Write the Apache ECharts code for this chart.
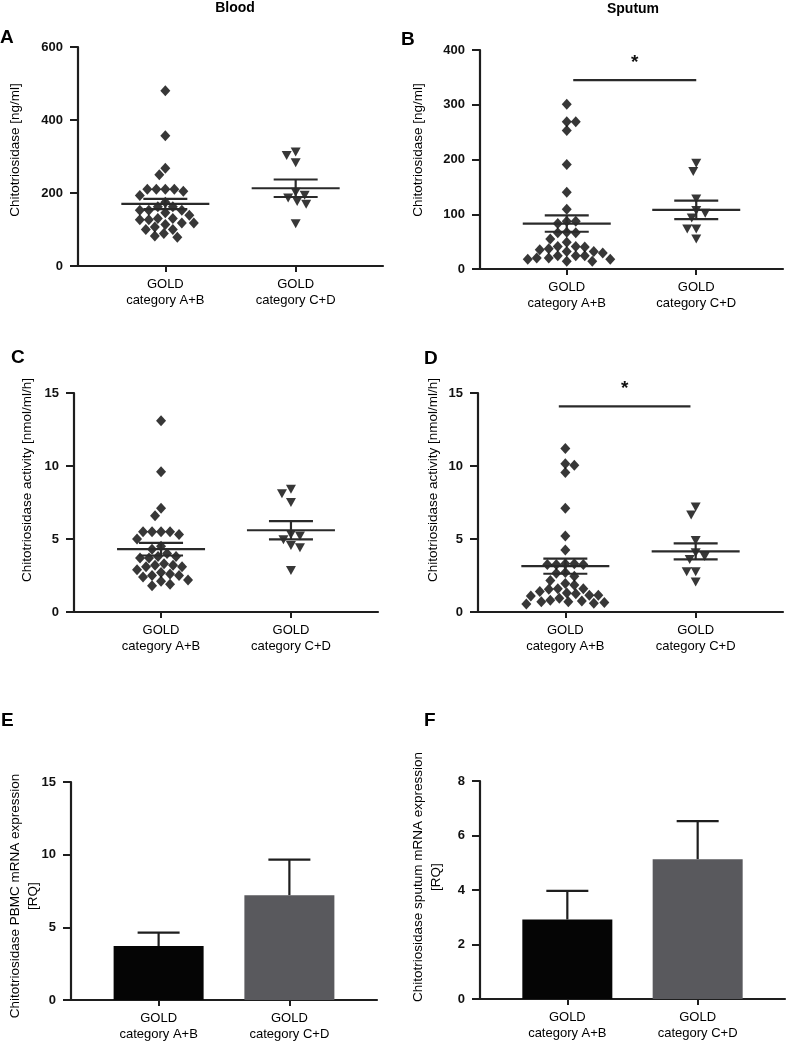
<!DOCTYPE html>
<html>
<head>
<meta charset="utf-8">
<script src="https://cdn.jsdelivr.net/npm/echarts@6/dist/echarts.min.js"></script>
<style>
html,body{margin:0;padding:0;background:#fff;}
#chart{width:797px;height:1043px;}
</style>
</head>
<body>
<div id="chart"></div>
<script>
// ---------- DATA ----------
const categories = ['GOLD\ncategory A+B', 'GOLD\ncategory C+D'];

// Panel A: Blood chitotriosidase [ng/ml]
const bloodConcAB = [480, 357, 268, 250, 210, 210, 210, 210, 205, 193, 175, 162, 162, 153, 153, 153, 146, 139, 130, 130, 127, 127, 118, 118, 114, 107, 100, 100, 89, 82, 79];
const bloodConcCD = [312, 303, 283, 202, 194, 186, 177, 169, 116];
const bloodConcMean = [170, 213];
const bloodConcSem = [14, 24];

// Panel B: Sputum chitotriosidase [ng/ml]
const sputumConcAB = [301, 269, 269, 253, 191, 140, 109, 87, 87, 83, 67, 66, 66, 55, 49, 41, 41, 40, 37, 35, 32, 32, 29, 24, 24, 24, 20, 20, 18, 18, 14, 14];
const sputumConcCD = [193, 178, 128, 107, 102, 93, 73, 73, 55];
const sputumConcMean = [83, 108];
const sputumConcSem = [15, 17];
const sigBarB = [1.05, 2.0, 345];

// Panel C: Blood chitotriosidase activity [nmol/ml/h]
const bloodActAB = [13.1, 9.6, 7.1, 6.6, 5.5, 5.5, 5.5, 5.5, 5.3, 5.0, 4.5, 4.3, 4.0, 3.8, 3.8, 3.7, 3.7, 3.3, 3.2, 3.2, 3.1, 3.1, 2.9, 2.7, 2.6, 2.5, 2.5, 2.4, 2.2, 2.1, 1.9, 1.8];
const bloodActCD = [8.4, 8.1, 7.5, 5.3, 5.2, 4.95, 4.55, 4.4, 2.85];
const bloodActMean = [4.3, 5.6];
const bloodActSem = [0.43, 0.63];

// Panel D: Sputum chitotriosidase activity [nmol/ml/h]
const sputumActAB = [11.2, 10.15, 10.05, 9.55, 7.1, 5.2, 4.25, 3.3, 3.3, 3.25, 3.25, 3.25, 2.7, 2.65, 2.45, 2.15, 1.95, 1.85, 1.6, 1.6, 1.55, 1.4, 1.3, 1.25, 1.15, 1.15, 1.1, 0.95, 0.8, 0.75, 0.7, 0.7, 0.65, 0.6, 0.55];
const sputumActCD = [7.2, 6.65, 4.9, 4.05, 3.8, 3.6, 2.75, 2.75, 2.05];
const sputumActMean = [3.14, 4.15];
const sputumActSem = [0.52, 0.55];
const sigBarD = [0.95, 1.96, 14.08];

// Panel E: PBMC mRNA expression [RQ]
const pbmcMean = [3.71, 7.21];
const pbmcSem = [0.92, 2.45];

// Panel F: Sputum mRNA expression [RQ]
const sputumMrnaMean = [2.92, 5.13];
const sputumMrnaSem = [1.05, 1.40];

// Axis tick settings [max, interval]
const yAxisA = [600, 200];
const yAxisB = [400, 100];
const yAxisC = [15, 5];
const yAxisD = [15, 5];
const yAxisE = [15, 5];
const yAxisF = [8, 2];

// ---------- LAYOUT / STYLE ----------
const FONT = "'Liberation Sans', Arial, sans-serif";
const INK = '#1e1e1e';
const XMIN = 0.33, XMAX = 2.67;
const grids = [
  {left: 78, top: 47, width: 305, height: 219},   // A
  {left: 480, top: 50, width: 303, height: 219},  // B
  {left: 74, top: 393, width: 304, height: 219},  // C
  {left: 478, top: 393, width: 305, height: 219}, // D
  {left: 71, top: 782, width: 306, height: 218},  // E
  {left: 480, top: 781, width: 305, height: 218}  // F
];
const yAx = [yAxisA, yAxisB, yAxisC, yAxisD, yAxisE, yAxisF];

// beeswarm layout in pixel space, converted back to data units
function swarm(values, cat, gi) {
  const g = grids[gi];
  const pxPerY = g.height / yAx[gi][0];
  const pxPerX = g.width / (XMAX - XMIN);
  const step = 1.5, minDist = 8.7;
  const placed = [];
  const order = values.map((v, i) => i).sort((a, b) => values[b] - values[a]);
  const out = new Array(values.length);
  order.forEach((idx, n) => {
    const py = values[idx] * pxPerY;
    const sign = n % 2 === 0 ? 1 : -1;
    for (let k = 0; k < 200; k++) {
      const off = k === 0 ? 0 : (k % 2 === 1 ? sign * (k + 1) / 2 : -sign * k / 2);
      const px = off * step;
      const ok = placed.every(p => Math.hypot(p[0] - px, p[1] - py) >= minDist);
      if (ok) {
        placed.push([px, py]);
        out[idx] = [cat + px / pxPerX, values[idx]];
        break;
      }
    }
  });
  return out;
}

const series = [];
function scatterPanel(gi, ab, cd, mean, sem, sig) {
  series.push({
    type: 'scatter', xAxisIndex: gi, yAxisIndex: gi, z: 2,
    symbol: 'diamond', symbolSize: [10, 11],
    itemStyle: {color: '#050505'},
    data: swarm(ab, 1, gi)
  });
  series.push({
    type: 'scatter', xAxisIndex: gi, yAxisIndex: gi, z: 2,
    symbol: 'triangle', symbolRotate: 180, symbolSize: [10, 9],
    itemStyle: {color: '#050505'},
    data: swarm(cd, 2, gi)
  });
  series.push({
    type: 'custom', xAxisIndex: gi, yAxisIndex: gi, z: 5,
    data: mean.map((m, i) => [i + 1, m, sem[i]]),
    renderItem: function (params, api) {
      const x = api.value(0), m = api.value(1), s = api.value(2);
      const c = api.coord([x, m]);
      const hi = api.coord([x, m + s]);
      const lo = api.coord([x, m - s]);
      const st = {stroke: '#2a2a2a', lineWidth: 2.2};
      return {type: 'group', children: [
        {type: 'line', shape: {x1: c[0] - 44, y1: c[1], x2: c[0] + 44, y2: c[1]}, style: st},
        {type: 'line', shape: {x1: c[0] - 22, y1: hi[1], x2: c[0] + 22, y2: hi[1]}, style: st},
        {type: 'line', shape: {x1: c[0] - 22, y1: lo[1], x2: c[0] + 22, y2: lo[1]}, style: st},
        {type: 'line', shape: {x1: c[0], y1: hi[1], x2: c[0], y2: lo[1]}, style: st}
      ]};
    }
  });
  if (sig) {
    series.push({
      type: 'custom', xAxisIndex: gi, yAxisIndex: gi, z: 5, clip: false,
      data: [sig],
      renderItem: function (params, api) {
        const a = api.coord([api.value(0), api.value(2)]);
        const b = api.coord([api.value(1), api.value(2)]);
        return {type: 'group', children: [
          {type: 'line', shape: {x1: a[0], y1: a[1], x2: b[0], y2: b[1]}, style: {stroke: '#2a2a2a', lineWidth: 2.2}},
          {type: 'text', x: (a[0] + b[0]) / 2, y: a[1] - 27,
           style: {text: '*', fontFamily: FONT, fontSize: 19, fontWeight: 'bold', fill: '#111', align: 'center', verticalAlign: 'top'}}
        ]};
      }
    });
  }
}
function barPanel(gi, mean, sem) {
  const colors = ['#050505', '#59595d'];
  series.push({
    type: 'bar', xAxisIndex: gi, yAxisIndex: gi, z: 2, barWidth: 90,
    data: mean.map((m, i) => ({value: [i + 1, m], itemStyle: {color: colors[i]}}))
  });
  series.push({
    type: 'custom', xAxisIndex: gi, yAxisIndex: gi, z: 1,
    data: mean.map((m, i) => [i + 1, m, sem[i]]),
    renderItem: function (params, api) {
      const x = api.value(0), m = api.value(1), s = api.value(2);
      const c = api.coord([x, m]);
      const hi = api.coord([x, m + s]);
      const st = {stroke: '#1e1e1e', lineWidth: 2.2};
      return {type: 'group', children: [
        {type: 'line', shape: {x1: c[0], y1: c[1], x2: c[0], y2: hi[1]}, style: st},
        {type: 'line', shape: {x1: c[0] - 21, y1: hi[1], x2: c[0] + 21, y2: hi[1]}, style: st}
      ]};
    }
  });
}

scatterPanel(0, bloodConcAB, bloodConcCD, bloodConcMean, bloodConcSem, null);
scatterPanel(1, sputumConcAB, sputumConcCD, sputumConcMean, sputumConcSem, sigBarB);
scatterPanel(2, bloodActAB, bloodActCD, bloodActMean, bloodActSem, null);
scatterPanel(3, sputumActAB, sputumActCD, sputumActMean, sputumActSem, sigBarD);
barPanel(4, pbmcMean, pbmcSem);
barPanel(5, sputumMrnaMean, sputumMrnaSem);

const xAxes = grids.map((g, i) => ({
  gridIndex: i, type: 'value', min: XMIN, max: XMAX,
  axisLine: {show: true, onZero: false, lineStyle: {color: INK, width: 2.2}},
  axisTick: {show: true, customValues: [1, 2], length: 6, lineStyle: {color: INK, width: 2}},
  axisLabel: {show: true, customValues: [1, 2], margin: 10, fontFamily: FONT, fontSize: 13, lineHeight: 16, color: '#000',
    formatter: v => categories[Math.round(v) - 1]},
  splitLine: {show: false}
}));
const yAxes = grids.map((g, i) => ({
  gridIndex: i, type: 'value', min: 0, max: yAx[i][0], interval: yAx[i][1],
  axisLine: {show: true, lineStyle: {color: INK, width: 2.2}},
  axisTick: {show: true, length: 8, lineStyle: {color: INK, width: 2}},
  axisLabel: {margin: 15, fontFamily: FONT, fontSize: 13, color: '#111', fontWeight: 'bold'},
  splitLine: {show: false}
}));

function txt(x, y, text, opt) {
  return Object.assign({type: 'text', x: x, y: y, style: Object.assign({
    text: text, fontFamily: FONT, fontSize: 13.5, fill: '#000', align: 'center', verticalAlign: 'middle'
  }, opt || {})});
}
function vtxt(x, y, text, opt) {
  const t = txt(x, y, text, Object.assign({lineHeight: 18}, opt || {}));
  t.rotation = Math.PI / 2;
  return t;
}
const letterStyle = {fontSize: 19, fontWeight: 'bold', align: 'left', fill: '#000'};
const graphics = [
  txt(235, 8, 'Blood', {fontSize: 14, fontWeight: 'bold'}),
  txt(633, 9, 'Sputum', {fontSize: 14, fontWeight: 'bold'}),
  txt(0, 38, 'A', letterStyle),
  txt(401, 39.5, 'B', letterStyle),
  txt(11, 357.5, 'C', letterStyle),
  txt(424, 359, 'D', letterStyle),
  txt(1, 721, 'E', letterStyle),
  txt(424, 721, 'F', letterStyle),
  vtxt(15, 150, 'Chitotriosidase [ng/ml]'),
  vtxt(418, 150, 'Chitotriosidase [ng/ml]'),
  vtxt(27, 480, 'Chitotriosidase activity [nmol/ml/h]'),
  vtxt(433, 480, 'Chitotriosidase activity [nmol/ml/h]'),
  vtxt(24, 896, 'Chitotriosidase PBMC mRNA expression\n[RQ]'),
  vtxt(427.5, 877, 'Chitotriosidase sputum mRNA expression\n[RQ]')
];

const chart = echarts.init(document.getElementById('chart'), null, {renderer: 'canvas'});
chart.setOption({
  animation: false,
  backgroundColor: '#fff',
  grid: grids,
  xAxis: xAxes,
  yAxis: yAxes,
  series: series,
  graphic: graphics
});
</script>
</body>
</html>
